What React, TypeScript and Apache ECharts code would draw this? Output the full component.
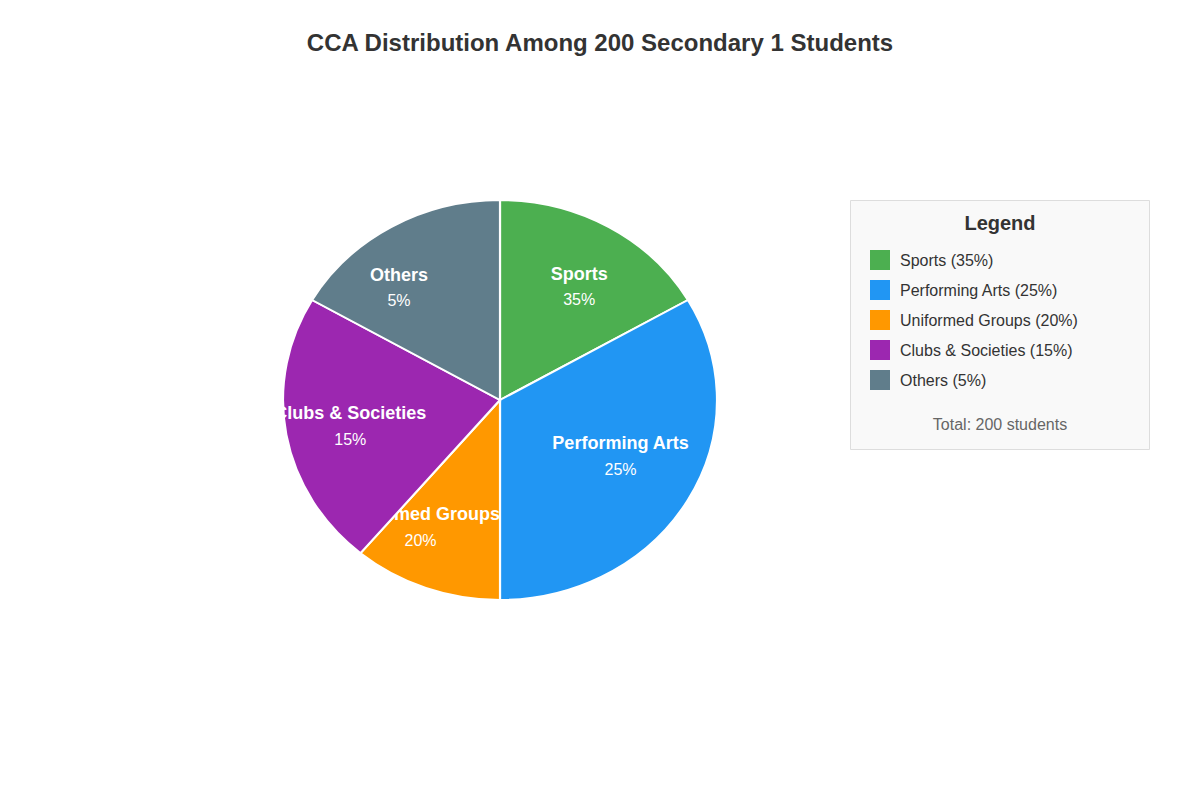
import React, { useEffect, useRef } from 'react';
import * as echarts from 'echarts';

// ---------- data ----------
const categories = ['Sports', 'Performing Arts', 'Uniformed Groups', 'Clubs & Societies', 'Others'];
const percentages = [35, 25, 20, 15, 5];
// sweep of each slice as it is drawn in the reference picture (degrees)
const sliceDegrees = [60, 120, 40, 80, 60];
const totalStudents = 200;
const chartTitle = `CCA Distribution Among ${totalStudents} Secondary 1 Students`;

// ---------- styles / layout ----------
const COLORS = ['#4CAF50', '#2196F3', '#FF9800', '#9C27B0', '#607D8B'];
const FONT = '"Liberation Sans", Arial, Helvetica, sans-serif';
const PIE = { cx: 500, cy: 400, rx: 217, ry: 200 };
// label anchor: angle nudge from the slice mid-angle (deg) and distance from the centre (px)
const LABEL_NUDGE = [
  { da: 5, r: 138 },
  { da: -5, r: 133 },
  { da: 12, r: 150 },
  { da: 0, r: 152 },
  { da: -12, r: 151 },
];

const rad = (d: number) => (d * Math.PI) / 180;

export default function App() {
  const ref = useRef<HTMLDivElement>(null);

  useEffect(() => {
    document.body.style.margin = '0';
    if (!ref.current) return;
    const chart = echarts.init(ref.current, undefined, { renderer: 'svg' });

    const series = categories.map((name, i) => ({
      type: 'custom',
      name,
      coordinateSystem: 'none',
      z: 2 + i,
      itemStyle: { color: COLORS[i] },
      data: [[sliceDegrees[i], percentages[i]]],
      renderItem: (params: any, api: any) => {
        const idx = params.seriesIndex;
        const sweep = api.value(0) as number;
        const pct = api.value(1) as number;
        const start = sliceDegrees.slice(0, idx).reduce((a, b) => a + b, 0);
        const mid = start + sweep / 2;
        const nudge = LABEL_NUDGE[idx];
        const th = rad(mid + nudge.da);
        const lx = PIE.cx + nudge.r * Math.sin(th);
        const ly = PIE.cy - nudge.r * Math.cos(th);
        return {
          type: 'group',
          children: [
            {
              type: 'sector',
              x: PIE.cx,
              y: PIE.cy,
              scaleX: PIE.rx / PIE.ry,
              shape: {
                cx: 0,
                cy: 0,
                r0: 0,
                r: PIE.ry,
                startAngle: rad(start - 90),
                endAngle: rad(start + sweep - 90),
                clockwise: true,
              },
              style: { fill: COLORS[idx], stroke: '#ffffff', lineWidth: 2, strokeNoScale: true },
            },
            {
              type: 'text',
              x: lx,
              y: ly - 13,
              style: {
                text: categories[idx],
                fill: '#ffffff',
                fontSize: 18,
                fontWeight: 'bold',
                fontFamily: FONT,
                align: 'center',
                verticalAlign: 'middle',
              },
            },
            {
              type: 'text',
              x: lx,
              y: ly + 13,
              style: {
                text: `${pct}%`,
                fill: '#ffffff',
                fontSize: 16,
                fontFamily: FONT,
                align: 'center',
                verticalAlign: 'middle',
              },
            },
          ],
        };
      },
    }));

    chart.setOption({
      animation: false,
      backgroundColor: '#ffffff',
      title: {
        text: chartTitle,
        left: 'center',
        top: 30,
        padding: 0,
        textStyle: { fontSize: 24, fontWeight: 'bold', color: '#333333', fontFamily: FONT },
      },
      legend: {
        orient: 'vertical',
        left: 870,
        top: 250,
        padding: 0,
        itemWidth: 20,
        itemHeight: 20,
        itemGap: 10,
        icon: 'rect',
        selectedMode: false,
        data: categories,
        formatter: (name: string) => `${name} (${percentages[categories.indexOf(name)]}%)`,
        textStyle: { fontSize: 16, color: '#333333', fontFamily: FONT, padding: [0, 0, 0, 5] },
      },
      graphic: [
        {
          type: 'rect',
          z: 0,
          shape: { x: 850.5, y: 200.5, width: 299, height: 249 },
          style: { fill: '#f9f9f9', stroke: '#dddddd', lineWidth: 1 },
        },
        {
          type: 'text',
          z: 1,
          x: 1000,
          y: 223,
          style: {
            text: 'Legend',
            fill: '#333333',
            fontSize: 20,
            fontWeight: 'bold',
            fontFamily: FONT,
            align: 'center',
            verticalAlign: 'middle',
          },
        },
        {
          type: 'text',
          z: 1,
          x: 1000,
          y: 424,
          style: {
            text: `Total: ${totalStudents} students`,
            fill: '#666666',
            fontSize: 16,
            fontFamily: FONT,
            align: 'center',
            verticalAlign: 'middle',
          },
        },
      ],
      series,
    });

    return () => chart.dispose();
  }, []);

  return <div ref={ref} style={{ width: 1200, height: 800 }} />;
}
